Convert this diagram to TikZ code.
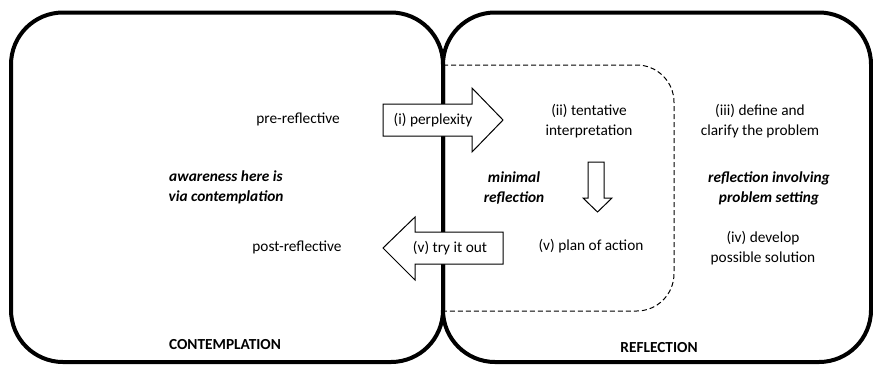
\documentclass[tikz,border=0pt]{standalone}
\usepackage{fontspec}
\setmainfont{Carlito}

\tikzset{
  halfbox/.style={line width=3pt, rounded corners=39pt},
  minbox/.style={line width=0.75pt, dash pattern=on 3.75pt off 2.25pt, rounded corners=28pt},
  blockarrow/.style={draw, fill=white, line width=0.75pt, line join=miter},
  lbl/.style={align=center, inner sep=0pt, font=\fontsize{11.5}{15}\selectfont},
  strong/.style={lbl, font=\fontsize{11.5}{15}\selectfont\bfseries\itshape},
  heading/.style={lbl, font=\fontsize{11.5}{15}\selectfont\bfseries}
}

\begin{document}
\begin{tikzpicture}[x=0.75pt, y=-0.75pt]
  \useasboundingbox (0,0) rectangle (873,365);
  % the two halves
  \draw[halfbox] (11,12.5) rectangle (443,362);
  \draw[halfbox] (443,12.5) rectangle (871,362);
  \draw[minbox] (443,65) -- (674,65) -- (674,311) -- (443,311);

  % block arrows
  \draw[blockarrow] (383,104) -- (472,104) -- (472,88) -- (503,120)
    -- (472,152) -- (472,136) -- (383,136) -- cycle;
  \draw[blockarrow] (503,232) -- (415,232) -- (415,217) -- (383,248)
    -- (415,280) -- (415,264) -- (503,264) -- cycle;
  \draw[blockarrow] (588,162) -- (604,162) -- (604,198) -- (612,198)
    -- (597.5,212) -- (583,198) -- (588,198) -- cycle;

  \node[lbl] (perplexity) at (433,120) {(i) perplexity};
  \node[lbl] (tryout) at (450,248) {(v) try it out};

  % contemplation side
  \node[lbl] (pre) at (298,119) {pre-reflective};
  \node[strong] (aware) at (226,187) {awareness here is\\via contemplation};
  \node[lbl] (post) at (297,247) {post-reflective};
  \node[heading] (contemplation) at (225,345) {CONTEMPLATION};

  % reflection side
  \node[lbl] (tentative) at (589,121) {(ii) tentative\\interpretation};
  \node[strong] (minimal) at (514,188) {minimal\\reflection};
  \node[lbl] (plan) at (591,246) {(v) plan of action};
  \node[lbl] (define) at (760,121) {(iii) define and\\clarify the problem};
  \node[strong] (setting) at (769,188) {reflection involving\\problem setting};
  \node[lbl] (develop) at (763,248) {(iv) develop\\possible solution};
  \node[heading] (reflection) at (659,348) {REFLECTION};
\end{tikzpicture}
\end{document}
